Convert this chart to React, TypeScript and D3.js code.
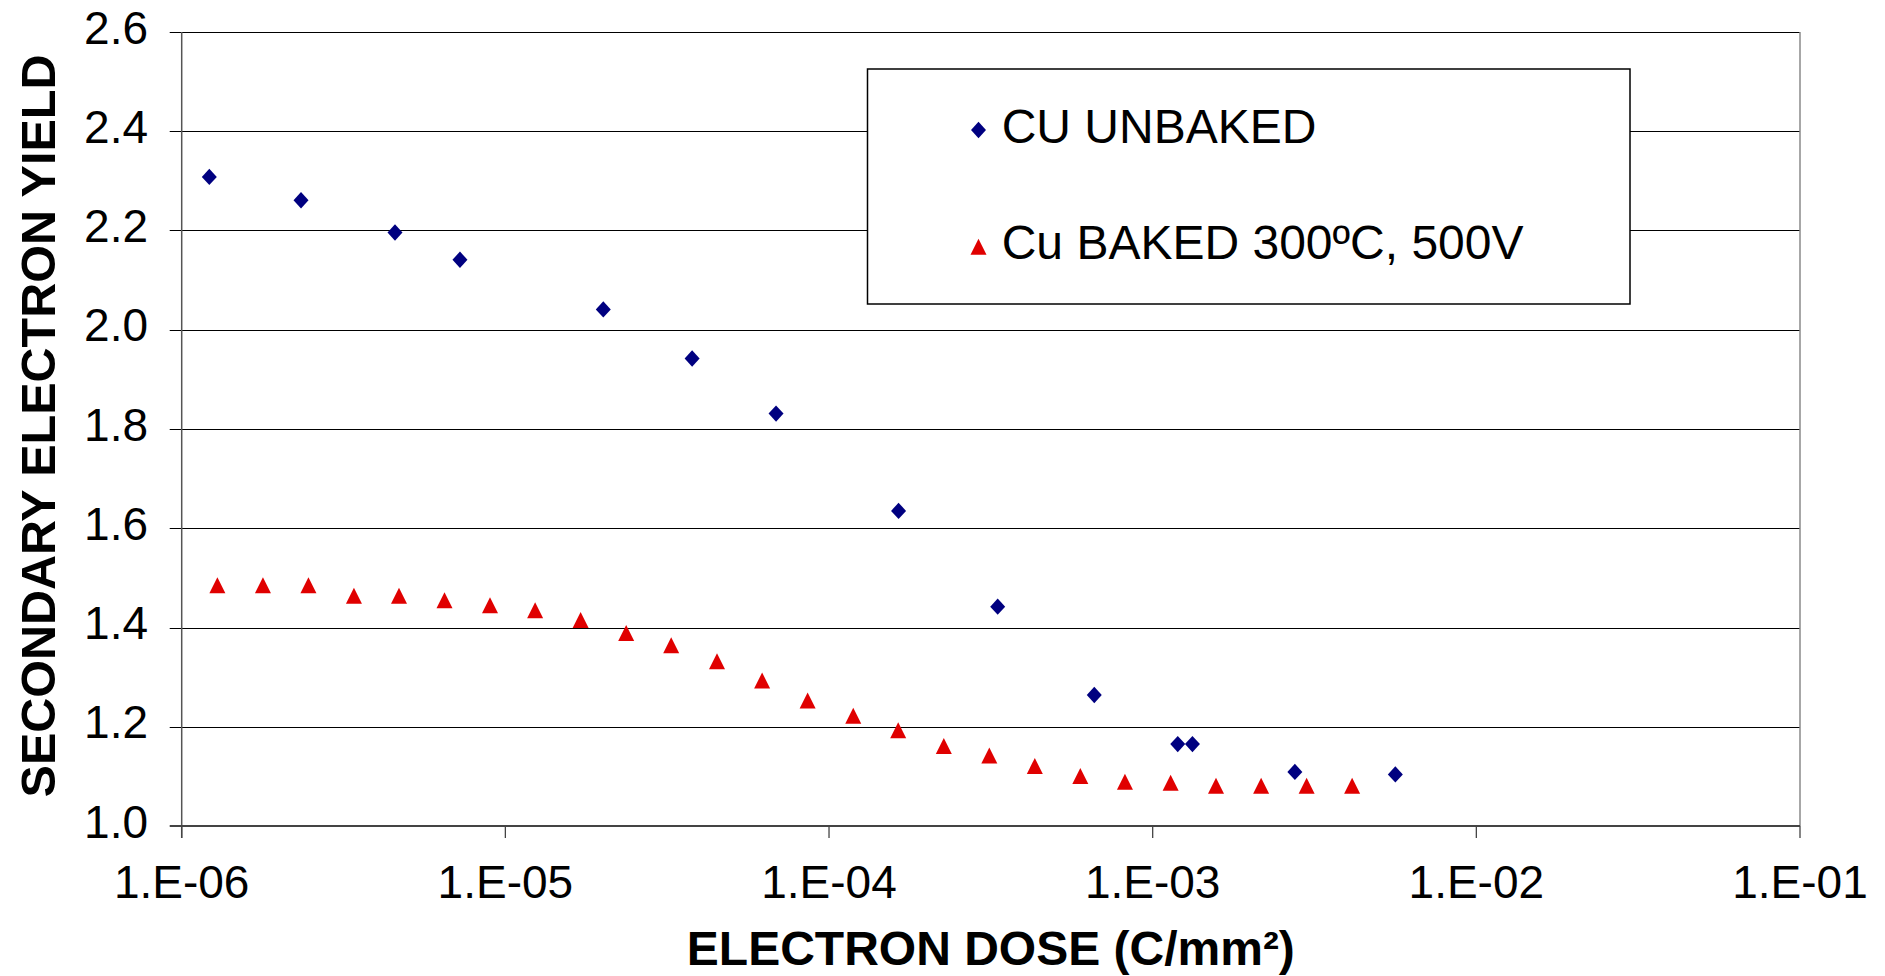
import React from "react";
import * as d3 from "d3";

// Copper secondary electron yield vs. accumulated electron dose
const unbakedDose = [1.217e-6, 2.337e-6, 4.56e-6, 7.24e-6, 2.007e-5, 3.776e-5, 6.86e-5, 1.64e-4, 3.32e-4, 6.6e-4, 1.195e-3, 1.327e-3, 2.75e-3, 5.62e-3];
const unbakedYield = [2.308, 2.261, 2.196, 2.141, 2.041, 1.942, 1.831, 1.635, 1.442, 1.264, 1.165, 1.165, 1.109, 1.104];

const bakedDose = [
  1.289e-6, 1.782e-6, 2.464e-6, 3.405e-6, 4.692e-6, 6.486e-6, 8.964e-6, 1.236e-5, 1.708e-5, 2.362e-5,
  3.253e-5, 4.507e-5, 6.214e-5, 8.588e-5, 1.188e-4, 1.636e-4, 2.263e-4, 3.128e-4, 4.323e-4, 5.975e-4,
  8.21e-4, 1.136e-3, 1.569e-3, 2.163e-3, 2.99e-3, 4.133e-3,
];
const bakedYield = [
  1.485, 1.485, 1.485, 1.464, 1.464, 1.455, 1.445, 1.435, 1.415, 1.389,
  1.364, 1.332, 1.293, 1.253, 1.222, 1.193, 1.161, 1.142, 1.121, 1.101,
  1.089, 1.087, 1.081, 1.081, 1.081, 1.081,
];

const xTicks = [1e-6, 1e-5, 1e-4, 1e-3, 1e-2, 1e-1];
const xTickLabels = ["1.E-06", "1.E-05", "1.E-04", "1.E-03", "1.E-02", "1.E-01"];
const yTicks = [1.0, 1.2, 1.4, 1.6, 1.8, 2.0, 2.2, 2.4, 2.6];

const seriesNames = ["CU UNBAKED", "Cu BAKED 300ºC, 500V"];
const xTitle = "ELECTRON DOSE (C/mm²)";
const yTitle = "SECONDARY ELECTRON YIELD";

const W = 1885;
const H = 976;
const FONT = "'Liberation Sans', Arial, Helvetica, sans-serif";
const BLUE = "#000080";
const RED = "#e00000";

const plot = { left: 181.7, right: 1800, top: 32, bottom: 826 };

const x = d3.scaleLog().domain([1e-6, 1e-1]).range([plot.left, plot.right]);
const y = d3.scaleLinear().domain([1.0, 2.6]).range([plot.bottom, plot.top]);

const diamondPath = (cx: number, cy: number, rx = 7.5, ry = 8.2) =>
  `M${cx},${cy - ry}L${cx + rx},${cy}L${cx},${cy + ry}L${cx - rx},${cy}Z`;
const trianglePath = (cx: number, cy: number, r = 8) =>
  `M${cx},${cy - r}L${cx + r},${cy + r}L${cx - r},${cy + r}Z`;

export default function App() {
  return (
    <svg
      width={W}
      height={H}
      viewBox={`0 0 ${W} ${H}`}
      style={{ position: "absolute", left: 0, top: 0, background: "#fff" }}
      fontFamily={FONT}
    >
      <rect x={0} y={0} width={W} height={H} fill="#fff" />

      {/* horizontal gridlines with outward ticks */}
      {yTicks.slice(1).map((t) => (
        <line
          key={t}
          x1={plot.left - 12}
          x2={plot.right}
          y1={Math.round(y(t)) + 0.5}
          y2={Math.round(y(t)) + 0.5}
          stroke="#000"
          strokeWidth={1.2}
        />
      ))}

      {/* right border */}
      <line x1={plot.right} x2={plot.right} y1={plot.top} y2={plot.bottom} stroke="#8a8a8a" strokeWidth={1.5} />

      {/* y axis */}
      <line x1={plot.left} x2={plot.left} y1={plot.top} y2={plot.bottom + 12} stroke="#555" strokeWidth={1.5} />

      {/* x axis */}
      <line x1={plot.left - 12} x2={plot.right} y1={plot.bottom} y2={plot.bottom} stroke="#444" strokeWidth={2} />
      {xTicks.map((t) => (
        <line key={t} x1={x(t)} x2={x(t)} y1={plot.bottom} y2={plot.bottom + 12} stroke="#444" strokeWidth={1.3} />
      ))}

      {/* y tick labels */}
      {yTicks.map((t) => (
        <text key={t} x={148} y={y(t) + 11.5} textAnchor="end" fontSize={46} fill="#000">
          {t.toFixed(1)}
        </text>
      ))}

      {/* x tick labels */}
      {xTicks.map((t, i) => (
        <text key={t} x={x(t)} y={898} textAnchor="middle" fontSize={46} fill="#000">
          {xTickLabels[i]}
        </text>
      ))}

      {/* axis titles */}
      <text x={(plot.left + plot.right) / 2} y={965} textAnchor="middle" fontSize={48} fontWeight="bold" fill="#000">
        {xTitle}
      </text>
      <text
        transform={`translate(55,${426}) rotate(-90)`}
        textAnchor="middle"
        fontSize={48.5}
        fontWeight="bold"
        fill="#000"
      >
        {yTitle}
      </text>

      {/* baked copper */}
      {bakedDose.map((d, i) => (
        <path key={`b${i}`} d={trianglePath(x(d), y(bakedYield[i]))} fill={RED} />
      ))}

      {/* unbaked copper */}
      {unbakedDose.map((d, i) => (
        <path key={`u${i}`} d={diamondPath(x(d), y(unbakedYield[i]))} fill={BLUE} />
      ))}

      {/* legend */}
      <g>
        <rect x={867.5} y={69} width={762.5} height={235} fill="#fff" stroke="#000" strokeWidth={1.5} />
        <path d={diamondPath(978.5, 130)} fill={BLUE} />
        <text x={1001.7} y={142.7} fontSize={48} fill="#000">
          {seriesNames[0]}
        </text>
        <path d={trianglePath(978.5, 246.8)} fill={RED} />
        <text x={1001.7} y={259.3} fontSize={48} fill="#000">
          {seriesNames[1]}
        </text>
      </g>
    </svg>
  );
}
